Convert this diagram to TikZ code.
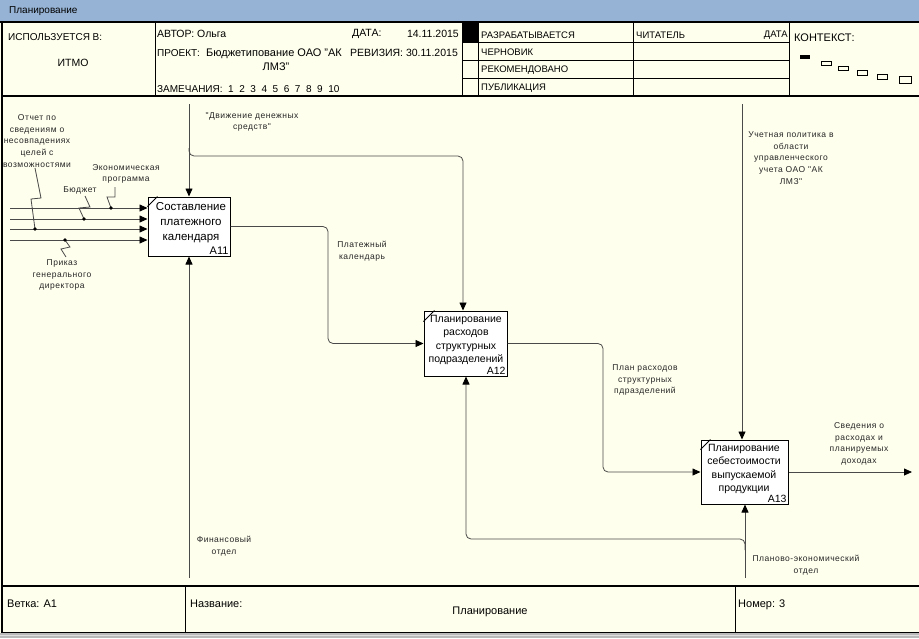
\documentclass[tikz,border=0pt]{standalone}
\usepackage{fontspec}
\setmainfont{Liberation Sans}
\newfontfamily\lblfont[LetterSpace=6]{Liberation Sans}
\usetikzlibrary{arrows.meta}
\definecolor{bgc}{HTML}{FFFFEE}
\definecolor{barc}{HTML}{96B3D5}
\definecolor{wirec}{HTML}{4A4A4A}
\begin{document}
\begin{tikzpicture}[x=1pt,y=-1pt,
  frame/.style={draw=black, line width=1.5pt},
  grid/.style={draw=black, line width=0.9pt},
  wire/.style={draw=wirec, line width=0.8pt},
  arr/.style={wire, -{Triangle[length=8pt,width=7pt,color=black]}},
  fn/.style={draw=black, line width=1pt, fill=white, inner sep=0pt},
  boxtxt/.style={font=\fontsize{10.5}{13.3}\selectfont, align=center, inner sep=0pt},
  boxnum/.style={font=\fontsize{10.5}{12}\selectfont, anchor=south east, inner sep=1.8pt},
  lbl/.style={font=\lblfont\fontsize{8.5}{11.6}\selectfont, align=center, inner sep=0pt, text=black!85},
  hdr/.style={font=\fontsize{10.5}{12}\selectfont, anchor=west, inner sep=0pt},
  hdrr/.style={font=\fontsize{10.5}{12}\selectfont, anchor=east, inner sep=0pt},
  sta/.style={font=\fontsize{9.5}{11}\selectfont, anchor=west, inner sep=0pt},
  ftr/.style={font=\fontsize{11}{13}\selectfont, anchor=west, inner sep=0pt}]
\useasboundingbox (0,0) rectangle (919,638);
\fill[bgc] (0,0) rectangle (919,638);
\fill[barc] (0,0) rectangle (919,22);
\node[hdr, font=\fontsize{10}{12}\selectfont] (title) at (9,11.5) {Планирование};
% bottom stripe
\fill[gray!55] (0,633) rectangle (919,638);
\draw[gray!25, line width=0.8pt] (0,635.5) -- (919,635.5);
% frame
\draw[frame] (0,22) -- (919,22);
\draw[frame] (2,22) -- (2,633);
\draw[frame] (2,96) -- (919,96);
\draw[frame] (2,586) -- (919,586);
\draw[frame] (2,632.5) -- (919,632.5);
% header grid
\draw[grid] (155,22) -- (155,96);
\draw[grid] (462,22) -- (462,96);
\draw[grid] (478,22) -- (478,96);
\draw[grid] (633,22) -- (633,96);
\draw[grid] (789,22) -- (789,96);
\draw[grid] (462,42.5) -- (789,42.5);
\draw[grid] (462,60) -- (789,60);
\draw[grid] (462,78) -- (789,78);
\fill[black] (462,22) rectangle (478,42.5);
% footer grid
\draw[grid] (185,586) -- (185,632.5);
\draw[grid] (735,586) -- (735,632.5);
% header texts
\node[hdr, font=\fontsize{10}{12}\selectfont] (used) at (8,37) {ИСПОЛЬЗУЕТСЯ В:};
\node[font=\fontsize{10.5}{12}\selectfont, inner sep=0pt] (itmo) at (73,63) {ИТМО};
\node[hdr] (author) at (157,34) {АВТОР: Ольга};
\node[hdr] (date) at (352,34) {ДАТА:};
\node[hdrr] (dateval) at (459,34) {14.11.2015};
\node[hdr, font=\fontsize{10}{12}\selectfont] (proj) at (157,53) {ПРОЕКТ:};
\node[hdr, font=\fontsize{11}{12}\selectfont] (projname) at (206,54) {Бюджетипование ОАО "АК};
\node[font=\fontsize{11}{12}\selectfont, inner sep=0pt] (projname2) at (276,67) {ЛМЗ"};
\node[hdr] (rev) at (350,53) {РЕВИЗИЯ: 30.11.2015};
\node[hdr, font=\fontsize{10}{12}\selectfont] (notes) at (157,89) {ЗАМЕЧАНИЯ:\ \ 1\ \ 2\ \ 3\ \ 4\ \ 5\ \ 6\ \ 7\ \ 8\ \ 9\ \ 10};
\node[sta] (s1) at (481,35) {РАЗРАБАТЫВАЕТСЯ};
\node[sta] (s2) at (481,52) {ЧЕРНОВИК};
\node[sta] (s3) at (481,70) {РЕКОМЕНДОВАНО};
\node[sta] (s4) at (481,88) {ПУБЛИКАЦИЯ};
\node[sta] (reader) at (636,35) {ЧИТАТЕЛЬ};
\node[sta, anchor=east] (rdate) at (788,35) {ДАТА};
\node[hdr, font=\fontsize{11}{12}\selectfont] (ctx) at (794,38) {КОНТЕКСТ:};
\fill[black] (800,55) rectangle (810,59);
\draw[line width=0.8pt] (821,61) rectangle (831,65);
\draw[line width=0.8pt] (838,66) rectangle (848,70);
\draw[line width=0.8pt] (857,70) rectangle (867,75);
\draw[line width=0.8pt] (877,74) rectangle (887,79);
\draw[line width=0.8pt] (899,76) rectangle (911,83);
% footer texts
\node[ftr] (branch) at (7,604) {Ветка: A1};
\node[ftr] (name) at (190,604) {Название:};
\node[font=\fontsize{11}{13}\selectfont, inner sep=0pt] (nameval) at (490,612) {Планирование};
\node[ftr] (num) at (738,605) {Номер: 3};

% function boxes
\node[fn, minimum width=82pt, minimum height=59pt] (A11) at (189,226.5) {};
\node[fn, minimum width=83pt, minimum height=65pt] (A12) at (465.5,343.5) {};
\node[fn, minimum width=87pt, minimum height=64pt] (A13) at (744.5,472) {};
\draw[line width=0.8pt] (A11.north west) ++(0,10) -- ++(10,-10);
\draw[line width=0.8pt] (A12.north west) ++(0,11) -- ++(11,-11);
\draw[line width=0.8pt] (A13.north west) ++(0,10) -- ++(10,-10);
\node[boxtxt, font=\fontsize{11.5}{15}\selectfont] (A11t) at (191,223) {Составление\\платежного\\календаря};
\node[boxnum, font=\fontsize{11}{12}\selectfont] (A11n) at (A11.south east) {A11};
\node[boxtxt] (A12t) at (466,340) {Планирование\\расходов\\структурных\\подразделений};
\node[boxnum] (A12n) at (A12.south east) {A12};
\node[boxtxt] (A13t) at (744,469) {Планирование\\себестоимости\\выпускаемой\\продукции};
\node[boxnum] (A13n) at (A13.south east) {A13};

% inputs of A11
\coordinate (i1) at (10,208);
\coordinate (i2) at (10,219);
\coordinate (i3) at (10,229);
\coordinate (i4) at (10,240);
\draw[arr] (i1) -- (i1 -| A11.west);
\draw[arr] (i2) -- (i2 -| A11.west);
\draw[arr] (i3) -- (i3 -| A11.west);
\draw[arr] (i4) -- (i4 -| A11.west);
% squiggles
\coordinate (q1a) at (35,168); \coordinate (q1b) at (41,198); \coordinate (q1c) at (31,199); \coordinate (q1d) at (35,229);
\draw[wire] (q1a) -- (q1b) -- (q1c) -- (q1d);
\fill[black] (q1d) circle[radius=1.8pt];
\coordinate (q2a) at (85,196); \coordinate (q2b) at (90,207); \coordinate (q2c) at (79,208); \coordinate (q2d) at (84,219);
\draw[wire] (q2a) -- (q2b) -- (q2c) -- (q2d);
\fill[black] (q2d) circle[radius=1.8pt];
\coordinate (q3a) at (115,187); \coordinate (q3b) at (115,197); \coordinate (q3c) at (107,197); \coordinate (q3d) at (111,208);
\draw[wire] (q3a) -- (q3b) -- (q3c) -- (q3d);
\fill[black] (q3d) circle[radius=1.8pt];
\coordinate (q4a) at (65,240); \coordinate (q4b) at (70,247); \coordinate (q4c) at (61,249); \coordinate (q4d) at (66,257);
\draw[wire] (q4a) -- (q4b) -- (q4c) -- (q4d);
\fill[black] (q4a) circle[radius=1.8pt];
\node[lbl] (l1) at (37,141) {Отчет по\\сведениям о\\несовпадениях\\целей с\\возможностями};
\node[lbl] (l2) at (80,190) {Бюджет};
\node[lbl] (l3) at (126,174) {Экономическая\\программа};
\node[lbl] (l4) at (62,275) {Приказ\\генерального\\директора};

% control from top to A11 and A12
\coordinate (t1) at (189,104);
\coordinate (j1) at (189,148);
\coordinate (k1) at (463,156);
\draw[arr] (t1) -- (A11.north);
\draw[arr, rounded corners=5pt] (j1) |- (k1) -- (k1 |- A12.north);
\node[lbl] (l5) at (252,122) {"Движение денежных\\средств"};

% mechanism of A11
\coordinate (m1) at (189,578);
\draw[arr] (m1) -- (A11.south);
\node[lbl] (l6) at (224,546) {Финансовый\\отдел};

% A11 -> A12
\coordinate (v1) at (328,0);
\draw[arr, rounded corners=5pt] (A11.east) -- (A11.east -| v1) -- (A12.west -| v1) -- (A12.west);
\node[lbl] (l7) at (362,251) {Платежный\\календарь};

% A12 -> A13
\coordinate (v2) at (603,0);
\draw[arr, rounded corners=5pt] (A12.east) -- (A12.east -| v2) -- (A13.west -| v2) -- (A13.west);
\node[lbl] (l8) at (645,380) {План расходов\\структурных\\пдразделений};

% control of A13
\coordinate (t3) at (742,104);
\draw[arr] (t3) -- (t3 |- A13.north);
\node[lbl] (l9) at (791,158) {Учетная политика в\\области\\управленческого\\учета ОАО "АК\\ЛМЗ"};

% mechanism of A13 and A12
\coordinate (m3) at (745,578);
\coordinate (j3) at (745,550);
\coordinate (k3) at (466,539);
\draw[arr] (m3) -- (m3 |- A13.south);
\draw[arr, rounded corners=5pt] (j3) |- (k3) -- (k3 |- A12.south);
\node[lbl] (l10) at (806,565) {Планово-экономический\\отдел};

% output of A13
\coordinate (o3) at (912,472);
\draw[arr] (A13.east) -- (o3);
\node[lbl] (l11) at (859,444) {Сведения о\\расходах и\\планируемых\\доходах};
\end{tikzpicture}
\end{document}
